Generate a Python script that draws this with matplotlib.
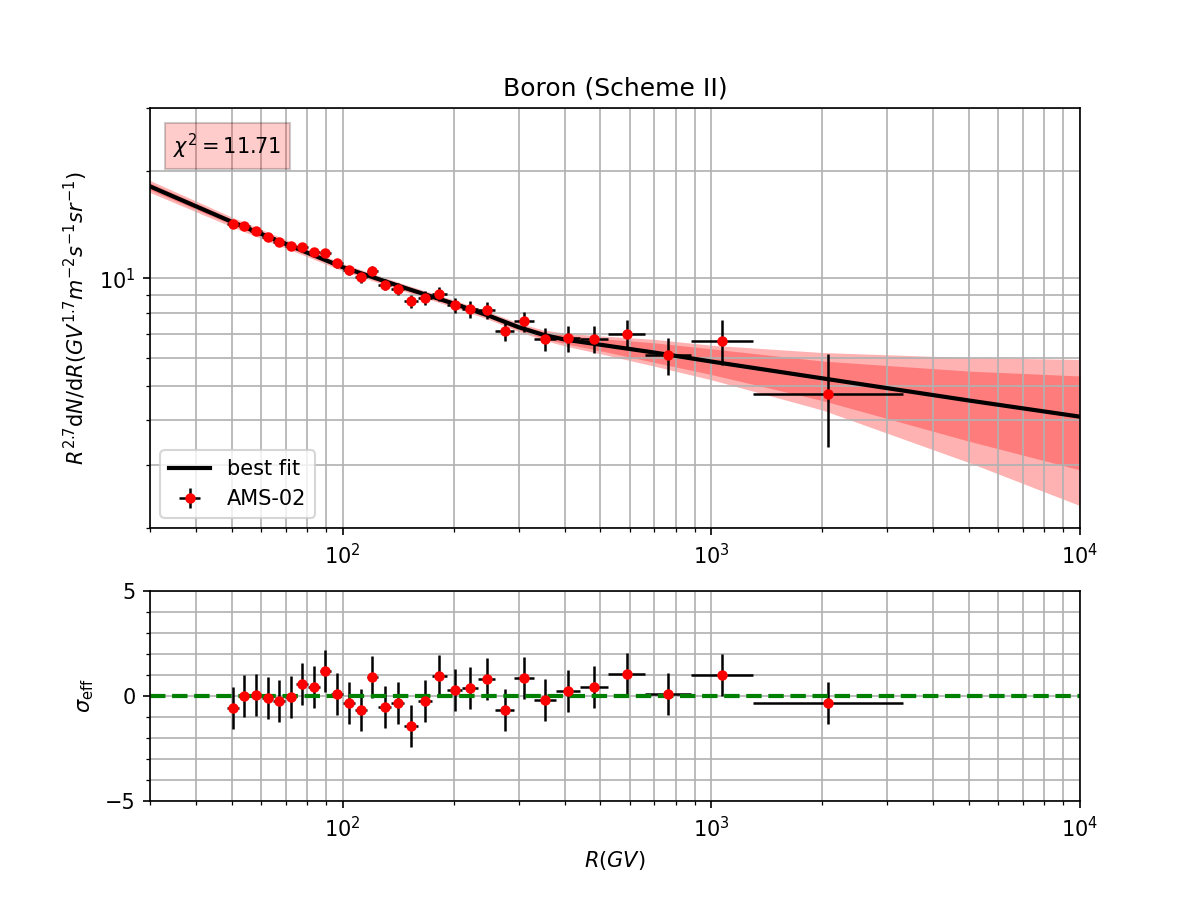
import numpy as np
import matplotlib
matplotlib.use('Agg')
import matplotlib.pyplot as plt
from matplotlib.ticker import MultipleLocator

# AMS-02 boron points (rigidity bin centre, bin edges, flux*R^2.7, error)
R = [50.3, 54.1, 58.2, 62.5, 67.2, 72.3, 77.6, 83.4, 89.7, 96.4,
     104, 112, 120, 130, 141, 153, 167, 183, 201, 222,
     246, 275, 310, 354, 409, 481, 589, 762, 1070, 2071]
R_lo = [48.5, 52.2, 56.1, 60.3, 64.8, 69.7, 74.9, 80.5, 86.5, 93.0,
        100, 108, 116, 125, 135, 147, 160, 175, 192, 211,
        233, 259, 291, 330, 379, 441, 525, 660, 880, 1300]
R_hi = [52.2, 56.1, 60.3, 64.8, 69.7, 74.9, 80.5, 86.5, 93.0, 100,
        108, 116, 125, 135, 147, 160, 175, 192, 211, 233,
        259, 291, 330, 379, 441, 525, 660, 880, 1300, 3300]
flux = [14.21, 14.03, 13.59, 13.10, 12.66, 12.31, 12.21, 11.82, 11.77, 11.01,
        10.53, 10.06, 10.48, 9.60, 9.36, 8.62, 8.81, 9.06, 8.42, 8.19,
        8.14, 7.14, 7.58, 6.76, 6.79, 6.78, 7.00, 6.10, 6.68, 4.75]
flux_err = [0.36, 0.35, 0.34, 0.33, 0.32, 0.31, 0.31, 0.32, 0.33, 0.33,
            0.33, 0.33, 0.35, 0.35, 0.36, 0.38, 0.40, 0.42, 0.42, 0.43,
            0.45, 0.45, 0.48, 0.50, 0.55, 0.58, 0.66, 0.73, 0.97, 1.38]
sigma = [-0.57, 0.0, 0.05, -0.10, -0.24, -0.06, 0.56, 0.44, 1.19, 0.08,
         -0.33, -0.68, 0.92, -0.51, -0.35, -1.43, -0.24, 0.95, 0.29, 0.38,
         0.83, -0.67, 0.87, -0.19, 0.22, 0.44, 1.05, 0.08, 1.02, -0.32]
sigma_err = [1.0] * len(sigma)

# best fit curve and the two uncertainty bands
R_fit = [30, 50, 100, 150, 200, 250, 300, 350, 400, 500, 700, 1000, 2000, 5000, 10000]
fit = [18.1, 14.4, 10.75, 9.35, 8.5, 7.85, 7.30, 6.95, 6.74, 6.52, 6.20, 5.85, 5.25, 4.55, 4.10]
dark_hi = [18.5, 14.65, 10.9, 9.48, 8.62, 7.96, 7.42, 7.09, 6.93, 6.78, 6.60, 6.35, 5.87, 5.50, 5.33]
dark_lo = [17.7, 14.15, 10.6, 9.22, 8.38, 7.74, 7.18, 6.80, 6.57, 6.27, 5.82, 5.38, 4.55, 3.50, 2.91]
light_hi = [18.8, 14.85, 11.0, 9.56, 8.70, 8.04, 7.50, 7.17, 7.03, 6.90, 6.75, 6.50, 6.20, 6.00, 5.93]
light_lo = [17.4, 13.95, 10.5, 9.14, 8.30, 7.66, 7.10, 6.72, 6.47, 6.15, 5.68, 5.20, 4.28, 3.05, 2.31]

chi2 = 11.71

R = np.array(R)
xerr = [R - np.array(R_lo), np.array(R_hi) - R]

fig, (ax1, ax2) = plt.subplots(2, 1, figsize=(8, 6), dpi=150,
                               gridspec_kw={'height_ratios': [2, 1]})

# top panel
ax1.fill_between(R_fit, light_lo, light_hi, color='red', alpha=0.3, lw=0)
ax1.fill_between(R_fit, dark_lo, dark_hi, color='red', alpha=0.3, lw=0)
ax1.plot(R_fit, fit, 'k-', lw=2, label='best fit')
ax1.errorbar(R, flux, xerr=xerr, yerr=flux_err, fmt='o', color='red',
             ms=4, ecolor='k', elinewidth=1.2, label='AMS-02')
ax1.set_xscale('log')
ax1.set_yscale('log')
ax1.set_xlim(30, 1e4)
ax1.set_ylim(2, 30)
ax1.grid(which='both')
ax1.set_ylabel(r'$R^{2.7}{\rm d}N/{\rm d}R(GV^{1.7}m^{-2}s^{-1}sr^{-1})$')
ax1.set_title('Boron (Scheme II)')
ax1.text(0.025, 0.89, r'$\chi^2 = %.2f$' % chi2, transform=ax1.transAxes,
         bbox=dict(facecolor='red', alpha=0.2))
ax1.legend(loc='lower left')

# bottom panel: residuals
ax2.errorbar(R, sigma, xerr=xerr, yerr=sigma_err, fmt='o', color='red',
             ms=4, ecolor='k', elinewidth=1.2)
ax2.axhline(0, color='g', ls='--', lw=2)
ax2.set_xscale('log')
ax2.set_xlim(30, 1e4)
ax2.set_ylim(-5, 5)
ax2.yaxis.set_major_locator(MultipleLocator(5))
ax2.yaxis.set_minor_locator(MultipleLocator(1))
ax2.grid(which='both')
ax2.set_xlabel(r'$R(GV)$')
ax2.set_ylabel(r'$\sigma_{\rm eff}$')

plt.savefig('out.png')
